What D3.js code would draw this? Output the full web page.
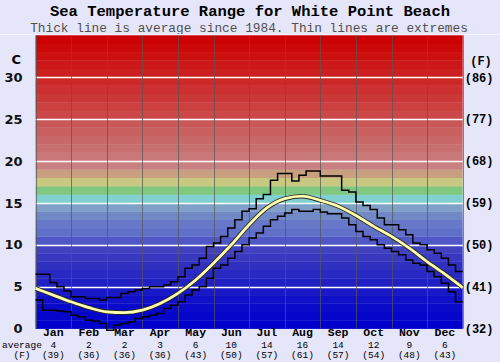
<!DOCTYPE html>
<html>
<head>
<meta charset="utf-8">
<script src="https://cdn.jsdelivr.net/npm/d3@7"></script>
<style>
body { margin: 0; background: #e6e6fa; }
svg { display: block; }
</style>
</head>
<body>
<svg id="chart"></svg>
<script>
var months = ["Jan","Feb","Mar","Apr","May","Jun","Jul","Aug","Sep","Oct","Nov","Dec"];
var avgC = [4, 2, 2, 3, 6, 10, 14, 16, 14, 12, 9, 6];
var avgF = [39, 36, 36, 36, 43, 50, 57, 61, 57, 54, 48, 43];
var cTicks = [0, 5, 10, 15, 20, 25, 30];

// average curve, one value every half month (month units 0..12)
var avgLine = [4.8, 4.0, 3.2, 2.5, 2.0, 1.9, 2.2, 3.0, 4.2, 5.8, 7.8, 10.0, 12.4,
  14.4, 15.5, 15.8, 15.3, 14.6, 13.5, 12.2, 11.0, 9.6, 8.0, 6.5, 4.9];

// extremes, one step every fifth of a month
var maxLine = [6.5, 6.5, 5.5, 5.0, 4.5, 3.8, 3.8, 3.6, 3.6, 3.4, 3.7, 3.7, 4.2, 4.4, 4.6,
  4.8, 5.0, 5.0, 5.2, 5.6, 6.2, 7.2, 7.6, 8.4, 9.8, 10.2, 11.0, 12.0, 13.0, 14.0,
  14.3, 15.5, 16.0, 17.7, 18.5, 18.5, 17.6, 18.3, 18.8, 18.8, 18.2, 18.2, 18.2, 16.5, 16.3,
  15.1, 14.7, 14.2, 13.2, 12.4, 12.4, 11.8, 11.2, 10.2, 10.0, 9.4, 9.0, 8.4, 7.6, 6.8];
var minLine = [3.4, 2.2, 2.2, 2.1, 2.0, 1.6, 1.4, 1.0, 0.9, 0.6, -0.2, 0.4, 0.6, 0.8, 1.2,
  1.4, 1.6, 1.8, 2.4, 2.8, 3.2, 4.0, 4.6, 5.0, 6.0, 7.2, 7.6, 8.4, 9.2, 10.0,
  10.8, 11.4, 12.2, 13.0, 13.4, 13.8, 14.2, 14.0, 14.0, 14.2, 13.9, 13.7, 13.7, 13.2, 12.4,
  11.6, 11.0, 10.6, 10.0, 9.6, 9.2, 8.8, 8.2, 7.8, 7.6, 6.8, 6.2, 5.4, 4.4, 3.2];

// one colour per degree band, 0-1 at the bottom
var bandColors = ["#0000cc","#0505cc","#0a0acb","#1010c8","#1818c6","#2020c4","#2828c2","#3030c0",
  "#3838c0","#4242c0","#5058c8","#6070c8","#6878c8","#7088c4","#80a0c8","#80d0d0","#80c880",
  "#c8c880","#c8a080","#c88080","#c87878","#c87070","#c86868","#c86060","#c85858","#cc4848",
  "#cc4040","#cc3838","#cc3030","#cc2828","#cc2020","#cc1818","#cc1010","#cc0808","#cc0000"];

var W = 500, H = 362;
var pLeft = 35.5, pRight = 462.7, pTop = 35.3, pBottom = 328.6;
var mono = "'Liberation Mono', 'Courier New', monospace";

var svg = d3.select("#chart").attr("width", W).attr("height", H);
svg.append("rect").attr("width", W).attr("height", H).attr("fill", "#e6e6fa");

var x = d3.scaleLinear().domain([0, 12]).range([pLeft, pRight]);
var y = d3.scaleLinear().domain([0, 35]).range([pBottom, pTop]);
var xm = d3.scaleBand().domain(months).range([pLeft, pRight]);

// title
svg.append("text").attr("x", 250).attr("y", 16).attr("text-anchor", "middle")
  .style("font-family", mono).style("font-weight", "bold").style("font-size", "15.5px")
  .text("Sea Temperature Range for White Point Beach");
svg.append("text").attr("x", 249).attr("y", 31.5).attr("text-anchor", "middle")
  .style("font-family", mono).style("font-size", "12.8px").attr("fill", "#505050")
  .text("Thick line is average since 1984. Thin lines are extremes");
svg.append("line").attr("x1", 0).attr("x2", W).attr("y1", 34.5).attr("y2", 34.5)
  .attr("stroke", "#f4f4ff").attr("stroke-width", 1);

// colour bands
svg.append("g").selectAll("rect").data(bandColors).enter().append("rect")
  .attr("x", pLeft).attr("width", pRight - pLeft)
  .attr("y", function(d, i){ return y(i + 1); })
  .attr("height", function(d, i){ return y(i) - y(i + 1) + 0.3; })
  .attr("fill", function(d){ return d; });

// grid
svg.append("g").selectAll("line").data(cTicks.slice(1)).enter().append("line")
  .attr("x1", pLeft).attr("x2", pRight)
  .attr("y1", function(d){ return Math.round(y(d)) + 0.5; })
  .attr("y2", function(d){ return Math.round(y(d)) + 0.5; })
  .attr("stroke", "#fff").attr("stroke-width", 1.5);
svg.append("g").selectAll("line").data(d3.range(0, 13)).enter().append("line")
  .attr("x1", function(d){ return Math.round(x(d)) + 0.5; })
  .attr("x2", function(d){ return Math.round(x(d)) + 0.5; })
  .attr("y1", pTop).attr("y2", pBottom)
  .attr("stroke", "#555").attr("stroke-opacity", 0.7).attr("stroke-width", 1);

// extremes
function stepPts(arr){
  var pts = arr.map(function(v, i){ return [i / 5, v]; });
  pts.push([12, arr[arr.length - 1]]);
  return pts;
}
var stepGen = d3.line().x(function(d){ return x(d[0]); }).y(function(d){ return y(d[1]); })
  .curve(d3.curveStepAfter);
[maxLine, minLine].forEach(function(arr){
  svg.append("path").attr("d", stepGen(stepPts(arr)))
    .attr("fill", "none").attr("stroke", "#000").attr("stroke-width", 1.5);
});

// average
var avgPts = avgLine.map(function(v, i){ return [i / 2, v]; });
var avgGen = d3.line().x(function(d){ return x(d[0]); }).y(function(d){ return y(d[1]); })
  .curve(d3.curveMonotoneX);
svg.append("path").attr("d", avgGen(avgPts)).attr("fill", "none")
  .attr("stroke", "#2a2a20").attr("stroke-width", 4.5);
svg.append("path").attr("d", avgGen(avgPts)).attr("fill", "none")
  .attr("stroke", "#ffffb0").attr("stroke-width", 2.8);

// left axis (C)
var yl = svg.append("g").attr("transform", "translate(" + pLeft + ",0)")
  .call(d3.axisLeft(y).tickValues(cTicks).tickSize(0).tickPadding(13));
yl.select(".domain").remove();
yl.selectAll("text").style("font-family", "'DejaVu Sans', sans-serif")
  .style("font-size", "13px").style("font-weight", "bold").attr("fill", "#111");
svg.append("text").attr("x", 21).attr("y", 64).attr("text-anchor", "end")
  .style("font-family", "'DejaVu Sans', sans-serif").style("font-size", "13px")
  .style("font-weight", "bold").text("C");

// right axis (F)
var yr = svg.append("g").attr("transform", "translate(" + pRight + ",0)")
  .call(d3.axisRight(y).tickValues(cTicks).tickSize(0).tickPadding(2)
    .tickFormat(function(d){ return "(" + Math.round(d * 9 / 5 + 32) + ")"; }));
yr.select(".domain").remove();
yr.selectAll("text").style("font-family", mono).style("font-size", "12px")
  .style("font-weight", "bold").attr("fill", "#000");
svg.append("text").attr("x", 481).attr("y", 65).attr("text-anchor", "middle")
  .style("font-family", mono).style("font-size", "12px").style("font-weight", "bold")
  .text("(F)");

// month labels
var xb = svg.append("g").attr("transform", "translate(0," + pBottom + ")")
  .call(d3.axisBottom(xm).tickSize(0).tickPadding(0));
xb.select(".domain").remove();
xb.selectAll("text").style("font-family", mono).style("font-size", "11.5px")
  .style("font-weight", "bold").attr("fill", "#000").attr("dy", "0.68em");

var rows = svg.append("g").style("font-family", mono).style("font-size", "9.5px")
  .attr("text-anchor", "middle");
rows.selectAll(".ac").data(avgC).enter().append("text")
  .attr("x", function(d, i){ return xm(months[i]) + xm.bandwidth() / 2; })
  .attr("y", 348).text(function(d){ return d; });
rows.selectAll(".af").data(avgF).enter().append("text")
  .attr("x", function(d, i){ return xm(months[i]) + xm.bandwidth() / 2; })
  .attr("y", 357.5).text(function(d){ return "(" + d + ")"; });
rows.append("text").attr("x", 2).attr("y", 348).attr("text-anchor", "start").text("average");
rows.append("text").attr("x", 22).attr("y", 357.5).text("(F)");
</script>
</body>
</html>
